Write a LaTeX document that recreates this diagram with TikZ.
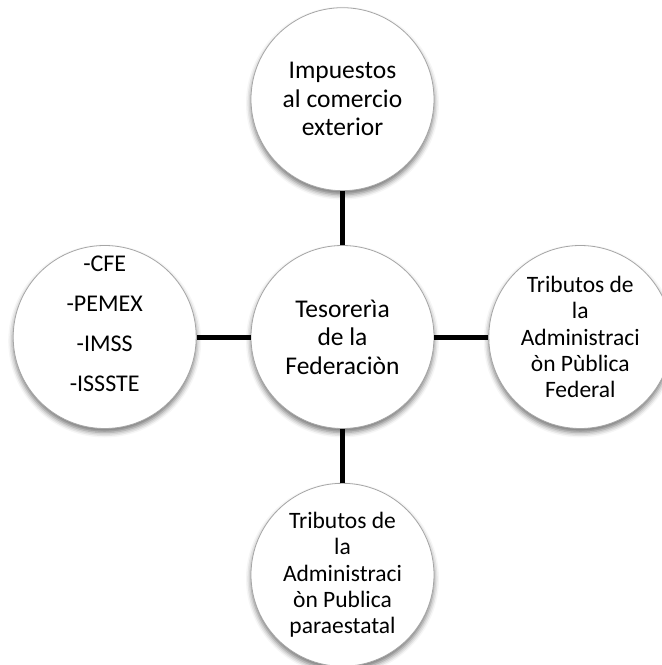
\documentclass[tikz,border=0pt]{standalone}
\usepackage{fontspec}
\setmainfont{Carlito}
\usetikzlibrary{positioning,shadows.blur}
\tikzset{
  bubble/.style={
    circle, draw=gray!70, line width=0.8pt, fill=white, align=center,
    minimum size=183pt, inner sep=0pt,
    font=\fontsize{25.5}{28.4}\selectfont,
    blur shadow={shadow xshift=0pt, shadow yshift=-4pt,
      shadow blur radius=5pt, shadow opacity=55},
  },
  smallbubble/.style={bubble, font=\fontsize{23.5}{26.3}\selectfont},
  listbubble/.style={bubble, font=\fontsize{24}{40}\selectfont,
    text height=130pt, text depth=20.6pt},
  link/.style={line width=5pt},
}

\begin{document}
\begin{tikzpicture}[node distance=54pt and 54pt]

\useasboundingbox (-342.5pt,-328pt) rectangle (319.5pt,337pt);

\node[bubble] (hub) {Tesorerìa\\de la\\Federaciòn};
\node[bubble, above=of hub] (trade) {Impuestos\\al comercio\\exterior};
\node[smallbubble, right=of hub] (federal) {Tributos de\\la\\Administraci\\òn Pùblica\\Federal};
\node[smallbubble, below=of hub] (parastate) {Tributos de\\la\\Administraci\\òn Publica\\paraestatal};
\node[listbubble, left=of hub] (firms) {-CFE\\-PEMEX\\-IMSS\\-ISSSTE};

\draw[link] (hub) -- (trade);
\draw[link] (hub) -- (federal);
\draw[link] (hub) -- (parastate);
\draw[link] (hub) -- (firms);

\end{tikzpicture}
\end{document}
